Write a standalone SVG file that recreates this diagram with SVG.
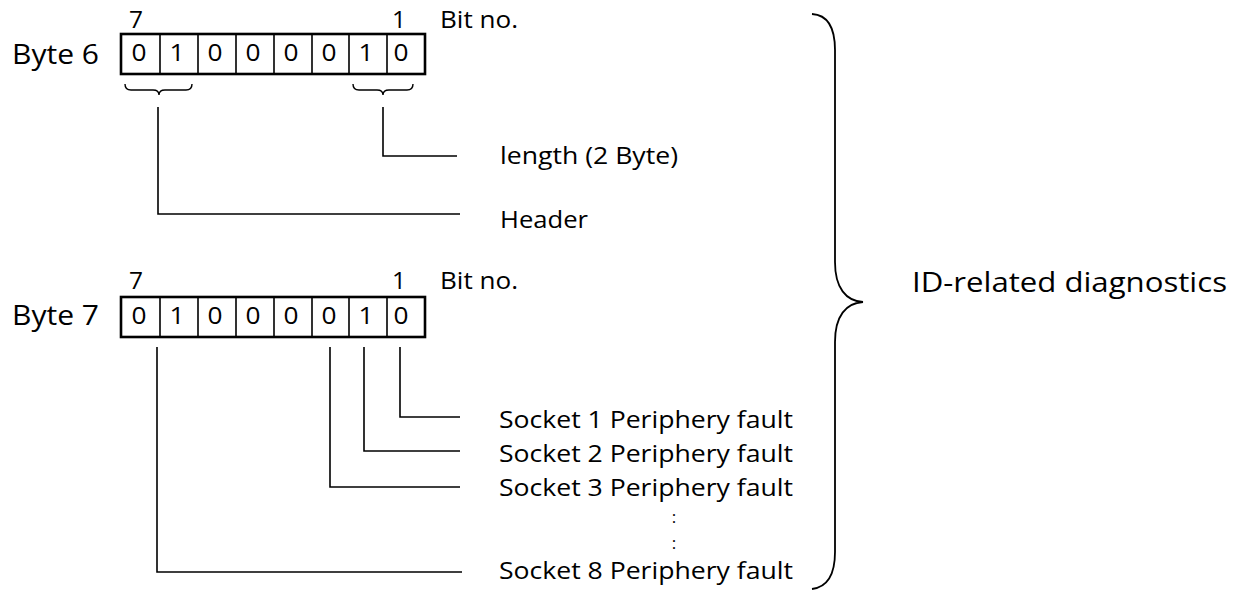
<svg xmlns="http://www.w3.org/2000/svg" width="1239" height="597" viewBox="0 0 1239 597">
  <style>
    text { font-family: "Open Sans", "Noto Sans", "DejaVu Sans", sans-serif; fill: #000; font-weight: 500; }
    .lbl { font-size: 23px; }
    .big { font-size: 27px; }
    .title { font-size: 28px; }
    .bit { font-size: 23px; text-anchor: middle; }
    .dots { font-size: 17px; text-anchor: middle; }
    .box { fill: #fff; stroke: #000; stroke-width: 2.6; }
    .div { stroke: #000; stroke-width: 1.6; fill: none; }
    .wire { stroke: #000; stroke-width: 1.6; fill: none; }
    .brace { stroke: #000; stroke-width: 1.4; fill: none; }
    .bigbrace { stroke: #000; stroke-width: 1.8; fill: none; }
  </style>

  <g id="byte6">
    <text class="bit" x="136" y="28" textLength="14" lengthAdjust="spacingAndGlyphs">7</text>
    <text class="bit" x="399" y="28" textLength="14" lengthAdjust="spacingAndGlyphs">1</text>
    <text class="lbl" x="440" y="28" textLength="78" lengthAdjust="spacingAndGlyphs">Bit no.</text>
    <text class="big" x="12" y="64" textLength="87" lengthAdjust="spacingAndGlyphs">Byte 6</text>
    <rect class="box" x="121" y="34" width="304" height="40"/>
    <path class="div" d="M160,34V74M198,34V74M236,34V74M274,34V74M312,34V74M349,34V74M387,34V74"/>
    <text class="bit" x="139" y="61" textLength="15" lengthAdjust="spacingAndGlyphs">0</text>
    <text class="bit" x="177" y="61" textLength="15" lengthAdjust="spacingAndGlyphs">1</text>
    <text class="bit" x="215" y="61" textLength="15" lengthAdjust="spacingAndGlyphs">0</text>
    <text class="bit" x="253" y="61" textLength="15" lengthAdjust="spacingAndGlyphs">0</text>
    <text class="bit" x="291" y="61" textLength="15" lengthAdjust="spacingAndGlyphs">0</text>
    <text class="bit" x="329" y="61" textLength="15" lengthAdjust="spacingAndGlyphs">0</text>
    <text class="bit" x="366" y="61" textLength="15" lengthAdjust="spacingAndGlyphs">1</text>
    <text class="bit" x="401" y="61" textLength="15" lengthAdjust="spacingAndGlyphs">0</text>
    <path class="brace" d="M125,84 Q125,90 131,90 L153,90 Q159,90 159,95 Q159,90 165,90 L186,90 Q192,90 192,84"/>
    <path class="brace" d="M353,84 Q353,90 359,90 L377,90 Q383,90 383,95 Q383,90 389,90 L407,90 Q413,90 413,84"/>
  </g>

  <g id="byte7">
    <text class="bit" x="136" y="289" textLength="14" lengthAdjust="spacingAndGlyphs">7</text>
    <text class="bit" x="399" y="289" textLength="14" lengthAdjust="spacingAndGlyphs">1</text>
    <text class="lbl" x="440" y="289" textLength="78" lengthAdjust="spacingAndGlyphs">Bit no.</text>
    <text class="big" x="12" y="325" textLength="87" lengthAdjust="spacingAndGlyphs">Byte 7</text>
    <rect class="box" x="121" y="297" width="304" height="40"/>
    <path class="div" d="M160,297V337M198,297V337M236,297V337M274,297V337M312,297V337M349,297V337M387,297V337"/>
    <text class="bit" x="139" y="324" textLength="15" lengthAdjust="spacingAndGlyphs">0</text>
    <text class="bit" x="177" y="324" textLength="15" lengthAdjust="spacingAndGlyphs">1</text>
    <text class="bit" x="215" y="324" textLength="15" lengthAdjust="spacingAndGlyphs">0</text>
    <text class="bit" x="253" y="324" textLength="15" lengthAdjust="spacingAndGlyphs">0</text>
    <text class="bit" x="291" y="324" textLength="15" lengthAdjust="spacingAndGlyphs">0</text>
    <text class="bit" x="329" y="324" textLength="15" lengthAdjust="spacingAndGlyphs">0</text>
    <text class="bit" x="366" y="324" textLength="15" lengthAdjust="spacingAndGlyphs">1</text>
    <text class="bit" x="401" y="324" textLength="15" lengthAdjust="spacingAndGlyphs">0</text>
  </g>

  <g id="connectors">
    <path class="wire" d="M383,107 V156 H457"/>
    <path class="wire" d="M158,107 V214 H460"/>
    <path class="wire" d="M400,347 V417 H460"/>
    <path class="wire" d="M364,347 V451 H460"/>
    <path class="wire" d="M330,347 V487 H460"/>
    <path class="wire" d="M157,347 V572 H462"/>
  </g>

  <g id="label-length"><text class="lbl" x="500" y="164" textLength="178" lengthAdjust="spacingAndGlyphs">length (2 Byte)</text></g>
  <g id="label-header"><text class="lbl" x="500" y="228" textLength="88" lengthAdjust="spacingAndGlyphs">Header</text></g>
  <g id="label-socket1"><text class="lbl" x="499" y="428" textLength="294" lengthAdjust="spacingAndGlyphs">Socket 1 Periphery fault</text></g>
  <g id="label-socket2"><text class="lbl" x="499" y="462" textLength="294" lengthAdjust="spacingAndGlyphs">Socket 2 Periphery fault</text></g>
  <g id="label-socket3"><text class="lbl" x="499" y="496" textLength="294" lengthAdjust="spacingAndGlyphs">Socket 3 Periphery fault</text></g>
  <g id="ellipsis">
    <text class="dots" x="674" y="523">:</text>
    <text class="dots" x="674" y="549">:</text>
  </g>
  <g id="label-socket8"><text class="lbl" x="499" y="579" textLength="294" lengthAdjust="spacingAndGlyphs">Socket 8 Periphery fault</text></g>

  <g id="group-brace">
    <path class="bigbrace" d="M812,14 C828,15 835,28 835,50 L835,262 C835,288 846,301 863,302 C846,303 835,316 835,342 L835,552 C835,574 828,587 812,589"/>
    <text class="title" x="912" y="292" textLength="315" lengthAdjust="spacingAndGlyphs">ID-related diagnostics</text>
  </g>
</svg>
